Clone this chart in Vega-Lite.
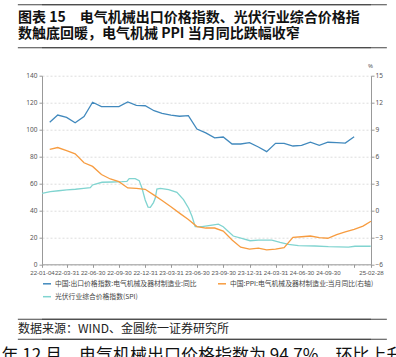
{
  "$schema": "https://vega.github.io/schema/vega-lite/v6.json",
  "width": 329,
  "height": 188.6,
  "autosize": "none",
  "padding": {"left": 42, "top": 75.7, "right": 25, "bottom": 92.7},
  "background": "white",
  "datasets": {
    "left": [
      {"date": "2022-01-31", "value": 105.4, "series": "中国:出口价格指数:电气机械及器材制造业:同比"},
      {"date": "2022-02-28", "value": 110.8, "series": "中国:出口价格指数:电气机械及器材制造业:同比"},
      {"date": "2022-03-31", "value": 109.1, "series": "中国:出口价格指数:电气机械及器材制造业:同比"},
      {"date": "2022-04-30", "value": 105.1, "series": "中国:出口价格指数:电气机械及器材制造业:同比"},
      {"date": "2022-05-31", "value": 109.6, "series": "中国:出口价格指数:电气机械及器材制造业:同比"},
      {"date": "2022-06-30", "value": 120.3, "series": "中国:出口价格指数:电气机械及器材制造业:同比"},
      {"date": "2022-07-31", "value": 117.0, "series": "中国:出口价格指数:电气机械及器材制造业:同比"},
      {"date": "2022-08-31", "value": 117.0, "series": "中国:出口价格指数:电气机械及器材制造业:同比"},
      {"date": "2022-09-30", "value": 117.0, "series": "中国:出口价格指数:电气机械及器材制造业:同比"},
      {"date": "2022-10-31", "value": 120.5, "series": "中国:出口价格指数:电气机械及器材制造业:同比"},
      {"date": "2022-11-30", "value": 118.0, "series": "中国:出口价格指数:电气机械及器材制造业:同比"},
      {"date": "2022-12-31", "value": 117.7, "series": "中国:出口价格指数:电气机械及器材制造业:同比"},
      {"date": "2023-01-31", "value": 114.0, "series": "中国:出口价格指数:电气机械及器材制造业:同比"},
      {"date": "2023-02-28", "value": 112.1, "series": "中国:出口价格指数:电气机械及器材制造业:同比"},
      {"date": "2023-03-31", "value": 110.8, "series": "中国:出口价格指数:电气机械及器材制造业:同比"},
      {"date": "2023-04-30", "value": 109.9, "series": "中国:出口价格指数:电气机械及器材制造业:同比"},
      {"date": "2023-05-31", "value": 110.3, "series": "中国:出口价格指数:电气机械及器材制造业:同比"},
      {"date": "2023-06-30", "value": 100.4, "series": "中国:出口价格指数:电气机械及器材制造业:同比"},
      {"date": "2023-07-31", "value": 97.5, "series": "中国:出口价格指数:电气机械及器材制造业:同比"},
      {"date": "2023-08-31", "value": 93.8, "series": "中国:出口价格指数:电气机械及器材制造业:同比"},
      {"date": "2023-09-30", "value": 94.5, "series": "中国:出口价格指数:电气机械及器材制造业:同比"},
      {"date": "2023-10-31", "value": 89.3, "series": "中国:出口价格指数:电气机械及器材制造业:同比"},
      {"date": "2023-11-30", "value": 89.3, "series": "中国:出口价格指数:电气机械及器材制造业:同比"},
      {"date": "2023-12-31", "value": 90.3, "series": "中国:出口价格指数:电气机械及器材制造业:同比"},
      {"date": "2024-01-31", "value": 87.1, "series": "中国:出口价格指数:电气机械及器材制造业:同比"},
      {"date": "2024-02-29", "value": 83.6, "series": "中国:出口价格指数:电气机械及器材制造业:同比"},
      {"date": "2024-03-31", "value": 89.8, "series": "中国:出口价格指数:电气机械及器材制造业:同比"},
      {"date": "2024-04-30", "value": 89.8, "series": "中国:出口价格指数:电气机械及器材制造业:同比"},
      {"date": "2024-05-31", "value": 87.8, "series": "中国:出口价格指数:电气机械及器材制造业:同比"},
      {"date": "2024-06-30", "value": 88.3, "series": "中国:出口价格指数:电气机械及器材制造业:同比"},
      {"date": "2024-07-31", "value": 90.6, "series": "中国:出口价格指数:电气机械及器材制造业:同比"},
      {"date": "2024-08-31", "value": 88.3, "series": "中国:出口价格指数:电气机械及器材制造业:同比"},
      {"date": "2024-09-30", "value": 90.6, "series": "中国:出口价格指数:电气机械及器材制造业:同比"},
      {"date": "2024-10-31", "value": 90.3, "series": "中国:出口价格指数:电气机械及器材制造业:同比"},
      {"date": "2024-11-30", "value": 90.0, "series": "中国:出口价格指数:电气机械及器材制造业:同比"},
      {"date": "2024-12-31", "value": 94.7, "series": "中国:出口价格指数:电气机械及器材制造业:同比"},
      {"date": "2022-01-04", "value": 52.7, "series": "光伏行业综合价格指数(SPI)"},
      {"date": "2022-02-02", "value": 53.9, "series": "光伏行业综合价格指数(SPI)"},
      {"date": "2022-03-03", "value": 54.6, "series": "光伏行业综合价格指数(SPI)"},
      {"date": "2022-04-01", "value": 55.2, "series": "光伏行业综合价格指数(SPI)"},
      {"date": "2022-05-01", "value": 55.7, "series": "光伏行业综合价格指数(SPI)"},
      {"date": "2022-05-30", "value": 56.4, "series": "光伏行业综合价格指数(SPI)"},
      {"date": "2022-06-22", "value": 56.9, "series": "光伏行业综合价格指数(SPI)"},
      {"date": "2022-06-30", "value": 58.9, "series": "光伏行业综合价格指数(SPI)"},
      {"date": "2022-07-10", "value": 59.6, "series": "光伏行业综合价格指数(SPI)"},
      {"date": "2022-08-02", "value": 60.9, "series": "光伏行业综合价格指数(SPI)"},
      {"date": "2022-09-06", "value": 61.1, "series": "光伏行业综合价格指数(SPI)"},
      {"date": "2022-10-11", "value": 61.3, "series": "光伏行业综合价格指数(SPI)"},
      {"date": "2022-10-28", "value": 61.6, "series": "光伏行业综合价格指数(SPI)"},
      {"date": "2022-11-05", "value": 63.6, "series": "光伏行业综合价格指数(SPI)"},
      {"date": "2022-11-26", "value": 63.6, "series": "光伏行业综合价格指数(SPI)"},
      {"date": "2022-12-10", "value": 62.1, "series": "光伏行业综合价格指数(SPI)"},
      {"date": "2022-12-20", "value": 56.4, "series": "光伏行业综合价格指数(SPI)"},
      {"date": "2022-12-31", "value": 47.7, "series": "光伏行业综合价格指数(SPI)"},
      {"date": "2023-01-10", "value": 42.5, "series": "光伏行业综合价格指数(SPI)"},
      {"date": "2023-01-18", "value": 42.3, "series": "光伏行业综合价格指数(SPI)"},
      {"date": "2023-01-29", "value": 45.8, "series": "光伏行业综合价格指数(SPI)"},
      {"date": "2023-02-04", "value": 49.0, "series": "光伏行业综合价格指数(SPI)"},
      {"date": "2023-02-10", "value": 55.9, "series": "光伏行业综合价格指数(SPI)"},
      {"date": "2023-02-22", "value": 56.4, "series": "光伏行业综合价格指数(SPI)"},
      {"date": "2023-03-23", "value": 55.4, "series": "光伏行业综合价格指数(SPI)"},
      {"date": "2023-04-21", "value": 53.4, "series": "光伏行业综合价格指数(SPI)"},
      {"date": "2023-05-14", "value": 48.0, "series": "光伏行业综合价格指数(SPI)"},
      {"date": "2023-06-01", "value": 41.6, "series": "光伏行业综合价格指数(SPI)"},
      {"date": "2023-06-13", "value": 35.5, "series": "光伏行业综合价格指数(SPI)"},
      {"date": "2023-06-24", "value": 28.0, "series": "光伏行业综合价格指数(SPI)"},
      {"date": "2023-07-18", "value": 28.0, "series": "光伏行业综合价格指数(SPI)"},
      {"date": "2023-08-22", "value": 29.1, "series": "光伏行业综合价格指数(SPI)"},
      {"date": "2023-09-13", "value": 29.8, "series": "光伏行业综合价格指数(SPI)"},
      {"date": "2023-09-30", "value": 27.9, "series": "光伏行业综合价格指数(SPI)"},
      {"date": "2023-11-04", "value": 21.0, "series": "光伏行业综合价格指数(SPI)"},
      {"date": "2023-12-04", "value": 19.3, "series": "光伏行业综合价格指数(SPI)"},
      {"date": "2024-01-02", "value": 17.5, "series": "光伏行业综合价格指数(SPI)"},
      {"date": "2024-01-31", "value": 18.0, "series": "光伏行业综合价格指数(SPI)"},
      {"date": "2024-03-18", "value": 18.0, "series": "光伏行业综合价格指数(SPI)"},
      {"date": "2024-04-16", "value": 16.3, "series": "光伏行业综合价格指数(SPI)"},
      {"date": "2024-05-15", "value": 14.8, "series": "光伏行业综合价格指数(SPI)"},
      {"date": "2024-06-19", "value": 13.8, "series": "光伏行业综合价格指数(SPI)"},
      {"date": "2024-08-16", "value": 13.6, "series": "光伏行业综合价格指数(SPI)"},
      {"date": "2024-10-02", "value": 13.1, "series": "光伏行业综合价格指数(SPI)"},
      {"date": "2024-12-11", "value": 12.8, "series": "光伏行业综合价格指数(SPI)"},
      {"date": "2025-01-03", "value": 13.4, "series": "光伏行业综合价格指数(SPI)"},
      {"date": "2025-02-27", "value": 13.4, "series": "光伏行业综合价格指数(SPI)"}
    ],
    "right": [
      {"date": "2022-01-31", "value": 6.8, "series": "中国:PPI:电气机械及器材制造业:当月同比(右轴)"},
      {"date": "2022-02-28", "value": 7.0, "series": "中国:PPI:电气机械及器材制造业:当月同比(右轴)"},
      {"date": "2022-03-31", "value": 6.65, "series": "中国:PPI:电气机械及器材制造业:当月同比(右轴)"},
      {"date": "2022-04-30", "value": 6.3, "series": "中国:PPI:电气机械及器材制造业:当月同比(右轴)"},
      {"date": "2022-05-31", "value": 5.3, "series": "中国:PPI:电气机械及器材制造业:当月同比(右轴)"},
      {"date": "2022-06-30", "value": 4.9, "series": "中国:PPI:电气机械及器材制造业:当月同比(右轴)"},
      {"date": "2022-07-31", "value": 4.0, "series": "中国:PPI:电气机械及器材制造业:当月同比(右轴)"},
      {"date": "2022-08-31", "value": 3.5, "series": "中国:PPI:电气机械及器材制造业:当月同比(右轴)"},
      {"date": "2022-09-30", "value": 3.2, "series": "中国:PPI:电气机械及器材制造业:当月同比(右轴)"},
      {"date": "2022-10-31", "value": 2.5, "series": "中国:PPI:电气机械及器材制造业:当月同比(右轴)"},
      {"date": "2022-11-30", "value": 2.45, "series": "中国:PPI:电气机械及器材制造业:当月同比(右轴)"},
      {"date": "2022-12-31", "value": 2.35, "series": "中国:PPI:电气机械及器材制造业:当月同比(右轴)"},
      {"date": "2023-01-31", "value": 1.7, "series": "中国:PPI:电气机械及器材制造业:当月同比(右轴)"},
      {"date": "2023-02-28", "value": 1.1, "series": "中国:PPI:电气机械及器材制造业:当月同比(右轴)"},
      {"date": "2023-03-31", "value": 0.4, "series": "中国:PPI:电气机械及器材制造业:当月同比(右轴)"},
      {"date": "2023-04-30", "value": -0.3, "series": "中国:PPI:电气机械及器材制造业:当月同比(右轴)"},
      {"date": "2023-05-31", "value": -1.0, "series": "中国:PPI:电气机械及器材制造业:当月同比(右轴)"},
      {"date": "2023-06-30", "value": -1.8, "series": "中国:PPI:电气机械及器材制造业:当月同比(右轴)"},
      {"date": "2023-07-31", "value": -1.96, "series": "中国:PPI:电气机械及器材制造业:当月同比(右轴)"},
      {"date": "2023-08-31", "value": -1.96, "series": "中国:PPI:电气机械及器材制造业:当月同比(右轴)"},
      {"date": "2023-09-30", "value": -2.3, "series": "中国:PPI:电气机械及器材制造业:当月同比(右轴)"},
      {"date": "2023-10-31", "value": -3.3, "series": "中国:PPI:电气机械及器材制造业:当月同比(右轴)"},
      {"date": "2023-11-30", "value": -4.1, "series": "中国:PPI:电气机械及器材制造业:当月同比(右轴)"},
      {"date": "2023-12-31", "value": -4.3, "series": "中国:PPI:电气机械及器材制造业:当月同比(右轴)"},
      {"date": "2024-01-31", "value": -4.2, "series": "中国:PPI:电气机械及器材制造业:当月同比(右轴)"},
      {"date": "2024-02-29", "value": -4.4, "series": "中国:PPI:电气机械及器材制造业:当月同比(右轴)"},
      {"date": "2024-03-31", "value": -4.3, "series": "中国:PPI:电气机械及器材制造业:当月同比(右轴)"},
      {"date": "2024-04-30", "value": -4.15, "series": "中国:PPI:电气机械及器材制造业:当月同比(右轴)"},
      {"date": "2024-05-31", "value": -3.0, "series": "中国:PPI:电气机械及器材制造业:当月同比(右轴)"},
      {"date": "2024-06-30", "value": -2.93, "series": "中国:PPI:电气机械及器材制造业:当月同比(右轴)"},
      {"date": "2024-07-31", "value": -2.85, "series": "中国:PPI:电气机械及器材制造业:当月同比(右轴)"},
      {"date": "2024-08-31", "value": -3.04, "series": "中国:PPI:电气机械及器材制造业:当月同比(右轴)"},
      {"date": "2024-09-30", "value": -3.1, "series": "中国:PPI:电气机械及器材制造业:当月同比(右轴)"},
      {"date": "2024-10-31", "value": -2.7, "series": "中国:PPI:电气机械及器材制造业:当月同比(右轴)"},
      {"date": "2024-11-30", "value": -2.4, "series": "中国:PPI:电气机械及器材制造业:当月同比(右轴)"},
      {"date": "2024-12-31", "value": -2.1, "series": "中国:PPI:电气机械及器材制造业:当月同比(右轴)"},
      {"date": "2025-01-31", "value": -1.75, "series": "中国:PPI:电气机械及器材制造业:当月同比(右轴)"},
      {"date": "2025-02-28", "value": -1.2, "series": "中国:PPI:电气机械及器材制造业:当月同比(右轴)"}
    ],
    "notes": [
      {"kind": "title1", "text": "图表 15　电气机械出口价格指数、光伏行业综合价格指"},
      {"kind": "title2", "text": "数触底回暖，电气机械 PPI 当月同比跌幅收窄"},
      {"kind": "source", "text": "数据来源：WIND、金圆统一证券研究所"},
      {"kind": "body", "text": "年 12 月，电气机械出口价格指数为 94.7%，环比上升"}
    ]
  },
  "layer": [
    {
      "encoding": {
        "x": {
          "field": "date",
          "type": "temporal",
          "scale": {"type": "utc", "domain": [{"year": 2022, "month": 1, "date": 4, "utc": true}, {"year": 2025, "month": 2, "date": 28, "utc": true}]},
          "axis": {
            "title": null,
            "grid": false,
            "values": [
              {"year": 2022, "month": 1, "date": 4, "utc": true},
              {"year": 2022, "month": 3, "date": 31, "utc": true},
              {"year": 2022, "month": 6, "date": 30, "utc": true},
              {"year": 2022, "month": 9, "date": 30, "utc": true},
              {"year": 2022, "month": 12, "date": 31, "utc": true},
              {"year": 2023, "month": 3, "date": 31, "utc": true},
              {"year": 2023, "month": 6, "date": 30, "utc": true},
              {"year": 2023, "month": 9, "date": 30, "utc": true},
              {"year": 2023, "month": 12, "date": 31, "utc": true},
              {"year": 2024, "month": 3, "date": 31, "utc": true},
              {"year": 2024, "month": 6, "date": 30, "utc": true},
              {"year": 2024, "month": 9, "date": 30, "utc": true},
              {"year": 2024, "month": 12, "date": 31, "utc": true},
              {"year": 2025, "month": 2, "date": 28, "utc": true}
            ],
            "labelExpr": "utcFormat(datum.value, '%y-%m-%d') == '24-12-31' ? '' : utcFormat(datum.value, '%y-%m-%d')",
            "labelOverlap": false,
            "labelBound": false,
            "labelFlush": false,
            "labelFont": "Liberation Sans",
            "labelFontSize": 6.1,
            "tickSize": 3,
            "labelPadding": 2
          }
        }
      },
      "layer": [
        {
          "data": {"name": "left"},
          "mark": {"type": "line", "strokeWidth": 1.3},
          "encoding": {
            "y": {
              "field": "value",
              "type": "quantitative",
              "scale": {"domain": [0, 140], "nice": false, "zero": false},
              "axis": {
                "title": null,
                "values": [0, 20, 40, 60, 80, 100, 120, 140],
                "labelOverlap": false,
                "grid": true,
                "gridDash": [2, 2],
                "gridColor": "#dddddd",
                "tickSize": 3,
                "labelPadding": 2
              }
            },
            "color": {
              "field": "series",
              "type": "nominal",
              "scale": {
                "domain": ["中国:出口价格指数:电气机械及器材制造业:同比", "中国:PPI:电气机械及器材制造业:当月同比(右轴)", "光伏行业综合价格指数(SPI)"],
                "range": ["#4189bd", "#f79c40", "#80d4d0"]
              },
              "legend": {
                "title": null,
                "orient": "bottom",
                "direction": "horizontal",
                "columns": 2,
                "symbolType": "stroke",
                "symbolSize": 64,
                "symbolStrokeWidth": 1.5,
                "labelFont": "Noto Sans CJK SC",
                "labelFontSize": 6.8,
                "labelColor": "#444444",
                "labelOffset": 3,
                "columnPadding": 18,
                "rowPadding": 4,
                "offset": 3
              }
            }
          }
        },
        {
          "data": {"name": "right"},
          "mark": {"type": "line", "strokeWidth": 1.3},
          "encoding": {
            "y": {
              "field": "value",
              "type": "quantitative",
              "scale": {"domain": [-6, 15], "nice": false, "zero": false},
              "axis": {
                "orient": "right",
                "values": [-6, -3, 0, 3, 6, 9, 12, 15],
                "labelOverlap": false,
                "grid": false,
                "tickSize": 3,
                "labelPadding": 1,
                "title": "%",
                "titleAngle": 0,
                "titleX": -1,
                "titleY": -10,
                "titleAlign": "center",
                "titleBaseline": "middle",
                "titleFontSize": 6,
                "titleFontWeight": "normal",
                "titleColor": "#555555"
              }
            },
            "color": {"field": "series", "type": "nominal"}
          }
        }
      ],
      "resolve": {"scale": {"y": "independent"}}
    },
    {
      "layer": [
        {
          "data": {"name": "notes"},
          "transform": [{"filter": "datum.kind == 'title1'"}],
          "mark": {"type": "text", "align": "left", "baseline": "middle", "font": "Noto Sans CJK SC", "fontSize": 14, "fontWeight": "bold", "color": "#111111"},
          "encoding": {
            "x": {"datum": {"year": 2021, "month": 10, "date": 12, "utc": true}, "type": "temporal", "scale": {"type": "utc", "domain": [{"year": 2022, "month": 1, "date": 4, "utc": true}, {"year": 2025, "month": 2, "date": 28, "utc": true}]}, "axis": null},
            "y": {"datum": 183.2, "type": "quantitative", "scale": {"domain": [0, 140], "nice": false, "zero": false}, "axis": null},
            "text": {"field": "text"}
          }
        },
        {
          "data": {"name": "notes"},
          "transform": [{"filter": "datum.kind == 'title2'"}],
          "mark": {"type": "text", "align": "left", "baseline": "middle", "font": "Noto Sans CJK SC", "fontSize": 14, "fontWeight": "bold", "color": "#111111"},
          "encoding": {
            "x": {"datum": {"year": 2021, "month": 10, "date": 12, "utc": true}, "type": "temporal", "axis": null},
            "y": {"datum": 171.0, "type": "quantitative", "axis": null},
            "text": {"field": "text"}
          }
        },
        {
          "data": {"name": "notes"},
          "transform": [{"filter": "datum.kind == 'source'"}],
          "mark": {"type": "text", "align": "left", "baseline": "middle", "font": "Noto Sans CJK SC", "fontSize": 12, "color": "#222222"},
          "encoding": {
            "x": {"datum": {"year": 2021, "month": 10, "date": 12, "utc": true}, "type": "temporal", "axis": null},
            "y": {"datum": -48.0, "type": "quantitative", "axis": null},
            "text": {"field": "text"}
          }
        },
        {
          "data": {"name": "notes"},
          "transform": [{"filter": "datum.kind == 'body'"}],
          "mark": {"type": "text", "align": "left", "baseline": "top", "font": "Noto Sans CJK SC", "fontSize": 17, "color": "#111111"},
          "encoding": {
            "x": {"datum": {"year": 2021, "month": 8, "date": 15, "utc": true}, "type": "temporal", "axis": null},
            "y": {"datum": -62.3, "type": "quantitative", "axis": null},
            "text": {"field": "text"}
          }
        },
        {
          "data": {"values": [{"line": "top"}]},
          "mark": {"type": "tick", "orient": "horizontal", "size": 369, "thickness": 1, "color": "#444444", "opacity": 1},
          "encoding": {
            "x": {"datum": {"year": 2023, "month": 7, "date": 19, "utc": true}, "type": "temporal", "axis": null},
            "y": {"datum": 192.7, "type": "quantitative", "axis": null}
          }
        },
        {
          "data": {"values": [{"line": "title"}]},
          "mark": {"type": "tick", "orient": "horizontal", "size": 369, "thickness": 1, "color": "#444444", "opacity": 1},
          "encoding": {
            "x": {"datum": {"year": 2023, "month": 7, "date": 19, "utc": true}, "type": "temporal", "axis": null},
            "y": {"datum": 160.8, "type": "quantitative", "axis": null}
          }
        },
        {
          "data": {"values": [{"line": "source-top"}]},
          "mark": {"type": "tick", "orient": "horizontal", "size": 369, "thickness": 1, "color": "#444444", "opacity": 1},
          "encoding": {
            "x": {"datum": {"year": 2023, "month": 7, "date": 19, "utc": true}, "type": "temporal", "axis": null},
            "y": {"datum": -40.8, "type": "quantitative", "axis": null}
          }
        },
        {
          "data": {"values": [{"line": "source-bottom"}]},
          "mark": {"type": "tick", "orient": "horizontal", "size": 369, "thickness": 1, "color": "#444444", "opacity": 1},
          "encoding": {
            "x": {"datum": {"year": 2023, "month": 7, "date": 19, "utc": true}, "type": "temporal", "axis": null},
            "y": {"datum": -55.7, "type": "quantitative", "axis": null}
          }
        },
        {
          "data": {"values": [{"line": "top"}]},
          "mark": {"type": "rule", "color": "#444444", "strokeWidth": 1},
          "encoding": {
            "y": {"datum": 192.7, "type": "quantitative", "axis": null}
          }
        },
        {
          "data": {"values": [{"line": "title"}]},
          "mark": {"type": "rule", "color": "#444444", "strokeWidth": 1},
          "encoding": {
            "y": {"datum": 160.8, "type": "quantitative", "axis": null}
          }
        },
        {
          "data": {"values": [{"line": "source-top"}]},
          "mark": {"type": "rule", "color": "#444444", "strokeWidth": 1},
          "encoding": {
            "y": {"datum": -40.8, "type": "quantitative", "axis": null}
          }
        },
        {
          "data": {"values": [{"line": "source-bottom"}]},
          "mark": {"type": "rule", "color": "#444444", "strokeWidth": 1},
          "encoding": {
            "y": {"datum": -55.7, "type": "quantitative", "axis": null}
          }
        }
      ]
    }
  ],
  "resolve": {"scale": {"x": "independent", "y": "independent"}},
  "config": {
    "view": {"stroke": null},
    "axis": {
      "labelFont": "Noto Sans",
      "labelFontSize": 6.5,
      "labelColor": "#555555",
      "domainColor": "#999999",
      "tickColor": "#999999",
      "titleFont": "Noto Sans",
      "labelOverlap": false
    }
  }
}
